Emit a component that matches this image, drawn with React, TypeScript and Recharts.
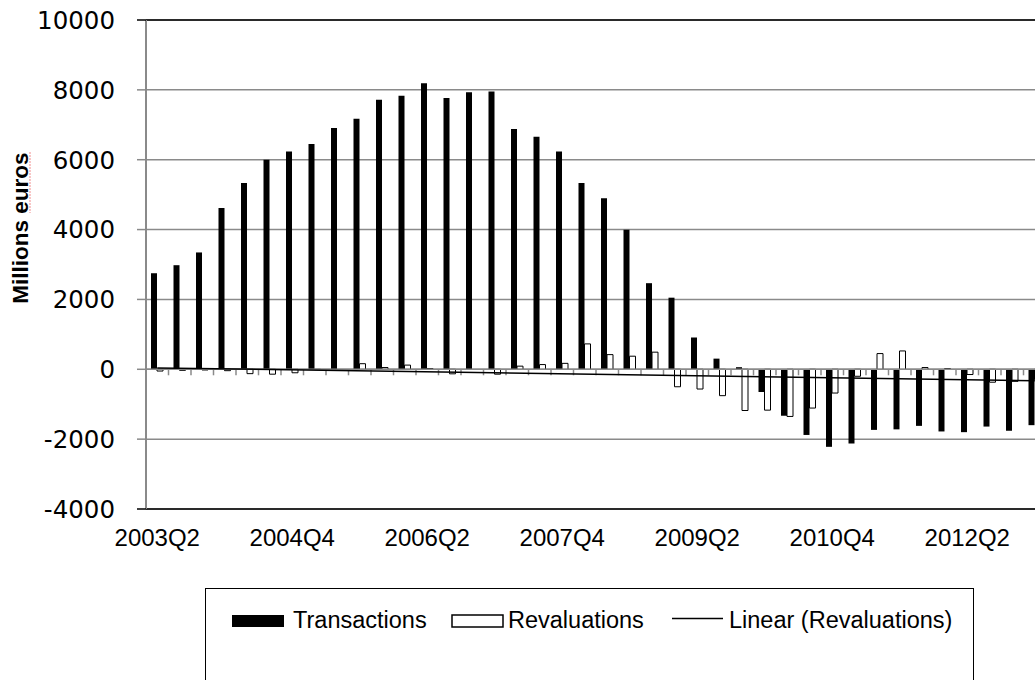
import React from 'react';
import { ComposedChart, Bar, XAxis, YAxis, CartesianGrid, ReferenceLine, Legend } from 'recharts';

const quarters = [
  '2003Q2', '2003Q3', '2003Q4',
  '2004Q1', '2004Q2', '2004Q3', '2004Q4',
  '2005Q1', '2005Q2', '2005Q3', '2005Q4',
  '2006Q1', '2006Q2', '2006Q3', '2006Q4',
  '2007Q1', '2007Q2', '2007Q3', '2007Q4',
  '2008Q1', '2008Q2', '2008Q3', '2008Q4',
  '2009Q1', '2009Q2', '2009Q3', '2009Q4',
  '2010Q1', '2010Q2', '2010Q3', '2010Q4',
  '2011Q1', '2011Q2', '2011Q3', '2011Q4',
  '2012Q1', '2012Q2', '2012Q3', '2012Q4',
  '2013Q1',
];

const transactions = [
  2750, 2980, 3345, 4620, 5330, 6000, 6235, 6450, 6910, 7175,
  7720, 7830, 8190, 7770, 7930, 7950, 6880, 6660, 6235, 5330,
  4900, 3995, 2465, 2050, 910, 305, 60, -650, -1330, -1880,
  -2220, -2125, -1735, -1720, -1620, -1780, -1800, -1640, -1760, -1600,
];

const revaluations = [
  -50, -30, -20, -40, -125, -140, -100, -10, 0, 160,
  50, 120, 20, -130, 0, -140, 90, 135, 170, 727,
  420, 375, 490, -500, -565, -755, -1180, -1170, -1350, -1110,
  -680, -200, 450, 525, 50, 20, -150, -370, -345, -300,
];

// Linear trend of revaluations, read at first and last quarter
const trendStart = 40;
const trendEnd = -330;

const yTicks = [-4000, -2000, 0, 2000, 4000, 6000, 8000, 10000];

const seriesNames = ['Transactions', 'Revaluations', 'Linear (Revaluations)'];
const yAxisTitle = 'Millions euros';

const data = quarters.map((q, i) => ({
  q,
  transactions: transactions[i],
  revaluations: revaluations[i],
}));

const GRID = '#8a8a8a';
const SANS = '"Liberation Sans", Arial, sans-serif';

const YTick = (props: any) => {
  const { x, y, payload } = props;
  const v = payload.value;
  const edge = v === yTicks[0] || v === yTicks[yTicks.length - 1];
  return (
    <g>
      <line x1={x - 9} x2={x} y1={y} y2={y} stroke={edge ? '#000' : GRID} strokeWidth={1.5} />
      <text
        x={x - 31}
        y={y}
        dy="0.36em"
        textAnchor="end"
        fontFamily='"DejaVu Sans", Verdana, sans-serif'
        fontSize={24.5}
        fill="#000"
      >
        {v}
      </text>
    </g>
  );
};

const XTick = (props: any) => {
  const { x, y, payload } = props;
  return (
    <text x={x} y={y + 37} textAnchor="middle" fontFamily={SANS} fontSize={24} fill="#000">
      {payload.value}
    </text>
  );
};

const ZeroTicks = (props: any) => {
  const vb = props.viewBox || {};
  let x = vb.x;
  let y = vb.y;
  let width = vb.width;
  if (x === undefined && vb.x1 !== undefined) {
    x = Math.min(vb.x1, vb.x2);
    width = Math.abs(vb.x2 - vb.x1);
    y = vb.y1;
  }
  if (x === undefined) return null;
  const n = quarters.length;
  const lines = [];
  for (let k = 1; k <= n; k++) {
    const tx = x + (width * k) / n;
    lines.push(
      <line key={k} x1={tx} x2={tx} y1={y} y2={y + 6} stroke={GRID} strokeWidth={1.5} />
    );
  }
  return <g>{lines}</g>;
};

const YTitle = (props: any) => {
  const vb = props.viewBox || { x: 0, y: 20, width: 146, height: 489 };
  const cx = vb.x + 28;
  const cy = vb.y + vb.height / 2 - 36.5;
  return (
    <g>
      <text
        x={cx}
        y={cy}
        transform={`rotate(-90 ${cx} ${cy})`}
        textAnchor="middle"
        fontFamily={SANS}
        fontWeight="bold"
        fontSize={22.5}
        fill="#000"
      >
        {yAxisTitle}
      </text>
      <line
        x1={cx + 2}
        x2={cx + 2}
        y1={cy - 76}
        y2={cy - 15}
        stroke="#f4a0a0"
        strokeWidth={1.2}
        strokeDasharray="2 1"
      />
    </g>
  );
};

const LegendBox = () => (
  <div
    style={{
      width: 769,
      height: 120,
      border: '1.5px solid #000',
      boxSizing: 'border-box',
      background: '#fff',
      position: 'relative',
    }}
  >
    <svg width={769} height={120} style={{ position: 'absolute', left: -1.5, top: -1.5 }}>
      <rect x={27} y={27} width={52} height={12} fill="#000" />
      <text x={88} y={40} fontFamily={SANS} fontSize={23.5} fill="#000">
        {seriesNames[0]}
      </text>
      <rect x={247} y={27} width={51} height={12} fill="#fff" stroke="#000" strokeWidth={1.5} />
      <text x={303} y={40} fontFamily={SANS} fontSize={23.5} fill="#000">
        {seriesNames[1]}
      </text>
      <line x1={467} x2={518} y1={30.5} y2={30.5} stroke="#000" strokeWidth={1.5} />
      <text x={524} y={40} fontFamily={SANS} fontSize={23.5} fill="#000">
        {seriesNames[2]}
      </text>
    </svg>
  </div>
);

export default function App() {
  return (
    <div
      style={{
        position: 'absolute',
        left: 0,
        top: 0,
        width: 1035,
        height: 680,
        overflow: 'hidden',
        background: '#fff',
      }}
    >
      <ComposedChart
        width={1060}
        height={680}
        data={data}
        margin={{ top: 20, right: 14, bottom: 131, left: 0 }}
        barGap={0}
      >
        <CartesianGrid horizontal vertical={false} stroke={GRID} strokeWidth={1.5} />
        <XAxis
          dataKey="q"
          interval={5}
          axisLine={false}
          tickLine={false}
          tickSize={0}
          tickMargin={0}
          height={40}
          tick={<XTick />}
        />
        <YAxis
          type="number"
          domain={[-4000, 10000]}
          ticks={yTicks}
          width={146}
          axisLine={{ stroke: GRID, strokeWidth: 2 }}
          tickLine={false}
          tickSize={0}
          tickMargin={0}
          tick={<YTick />}
          label={YTitle}
        />
        <ReferenceLine y={10000} stroke="#000" strokeWidth={1.5} />
        <ReferenceLine y={-4000} stroke="#000" strokeWidth={1.5} />
        <Bar dataKey="transactions" name={seriesNames[0]} fill="#000" barSize={6} isAnimationActive={false} />
        <Bar
          dataKey="revaluations"
          name={seriesNames[1]}
          fill="#fff"
          stroke="#000"
          strokeWidth={1}
          barSize={6}
          isAnimationActive={false}
        />
        <ReferenceLine y={0} stroke={GRID} strokeWidth={1.5} label={<ZeroTicks />} />
        <ReferenceLine
          segment={[
            { x: quarters[0], y: trendStart },
            { x: quarters[quarters.length - 1], y: trendEnd },
          ]}
          stroke="#000"
          strokeWidth={1.5}
        />
        <Legend
          layout="vertical"
          align="center"
          verticalAlign="middle"
          wrapperStyle={{ left: 205, top: 588, width: 769, height: 120 }}
          content={() => <LegendBox />}
        />
      </ComposedChart>
    </div>
  );
}
